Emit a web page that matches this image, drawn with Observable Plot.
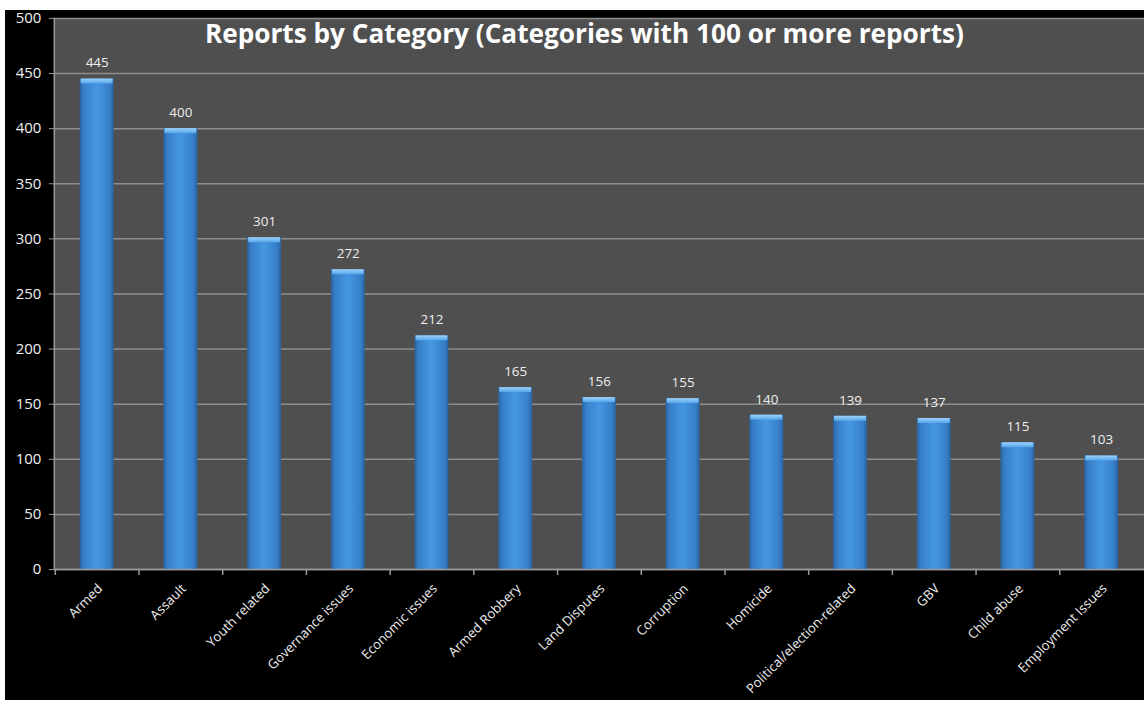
<!DOCTYPE html>
<html><head><meta charset="utf-8">
<script src="https://cdn.jsdelivr.net/npm/d3@7"></script>
<script src="https://cdn.jsdelivr.net/npm/@observablehq/plot@0.6"></script>
<style>
html,body{margin:0;padding:0;background:#fff;overflow:hidden;}
#wrap{position:absolute;left:0;top:0;width:1144px;height:702px;overflow:hidden;}
#wrap svg{position:absolute;left:0;top:0;}
.strip{position:absolute;background:#fff;z-index:5;}
</style></head><body><div id="wrap"></div>
<div class="strip" style="left:0;top:0;width:1144px;height:10px"></div>
<div class="strip" style="left:0;top:0;width:5px;height:702px"></div>
<script>
const categories = ["Armed","Assault","Youth related","Governance issues","Economic issues","Armed Robbery","Land Disputes","Corruption","Homicide","Political/election-related","GBV","Child abuse","Employment Issues"];
const reports = [445,400,301,272,212,165,156,155,140,139,137,115,103];
const yTicks = [0,50,100,150,200,250,300,350,400,450,500];
const title = "Reports by Category (Categories with 100 or more reports)";

const data = categories.map((c,i)=>({category:c, value:reports[i]}));

const chart = Plot.plot({
  width:1148, height:702, marginLeft:54, marginRight:0, marginTop:18, marginBottom:131,
  style:{background:"#000", color:"#e6e6e6", fontFamily:"'Open Sans', sans-serif", fontSize:"13px"},
  x:{domain:categories, paddingInner:0.6, paddingOuter:0.3, align:0.5, label:null},
  y:{domain:[0,500], label:null},
  marks:[
    Plot.frame({fill:"#4f4f4f", stroke:null}),
    Plot.gridY(yTicks, {stroke:"#8e8e8e", strokeOpacity:1, strokeWidth:1.5}),
    Plot.axisY(yTicks, {tickSize:5, tickPadding:8, stroke:"#9a9a9a", fill:"#f0f0f0", fontSize:15, label:null}),
    Plot.frame({anchor:"left", stroke:"#9a9a9a", strokeWidth:1.5}),
    Plot.barY(data, {x:"category", y:"value", fill:"url(#barGrad)"}),
    Plot.barY(data, {x:"category", y1:"value", y2:"value", insetBottom:-5, insetLeft:1, insetRight:1, fill:"url(#capGrad)"}),
    Plot.text(data, {x:"category", y:"value", text:d=>String(d.value), dy:-16, fill:"#eeeeee", fontSize:13.5}),
    Plot.ruleY([0], {stroke:"#9a9a9a", strokeWidth:1.5}),
    Plot.ruleX(categories, {x:d=>d, y1:0, y2:0, insetBottom:-6, dx:-42, stroke:"#9a9a9a", strokeWidth:1.5}),
    Plot.axisX({tickSize:0, tickRotate:-45, tickPadding:17, dx:3, fill:"#eeeeee", fontSize:13.2, label:null}),
    Plot.text([title], {frameAnchor:"top", lineAnchor:"middle", dy:16, dx:-15, text:d=>d, fill:"#ffffff", fontWeight:"bold", fontSize:26.3})
  ]
});

const ns = "http://www.w3.org/2000/svg";
const defs = document.createElementNS(ns, "defs");
defs.innerHTML = `
<linearGradient id="barGrad" x1="0" x2="1" y1="0" y2="0">
  <stop offset="0" stop-color="#2a62a0"/>
  <stop offset="0.12" stop-color="#377fc8"/>
  <stop offset="0.5" stop-color="#4597e2"/>
  <stop offset="0.88" stop-color="#377fc8"/>
  <stop offset="1" stop-color="#2a62a0"/>
</linearGradient>
<linearGradient id="capGrad" x1="0" x2="0" y1="0" y2="1">
  <stop offset="0" stop-color="#9dd2fa"/>
  <stop offset="1" stop-color="#55a6ea"/>
</linearGradient>`;
chart.insertBefore(defs, chart.firstChild);
document.getElementById("wrap").appendChild(chart);
</script></body></html>
